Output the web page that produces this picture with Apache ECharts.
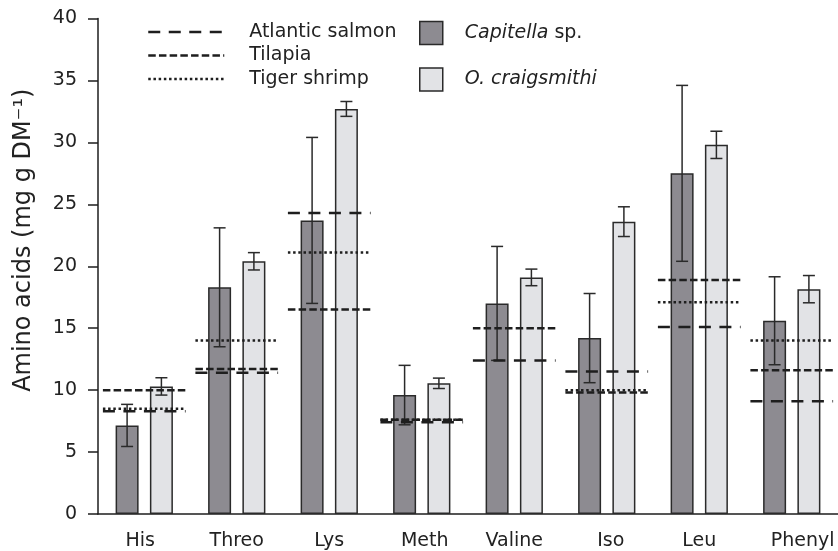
<!DOCTYPE html>
<html><head><meta charset="utf-8">
<script src="https://cdn.jsdelivr.net/npm/echarts@6/dist/echarts.min.js"></script>
<style>html,body{margin:0;padding:0;background:#fff;overflow:hidden}#c{width:838px;height:551px}</style>
</head><body><div id="c"></div>
<script>
// ---- data ----
const categories = ['His', 'Threo', 'Lys', 'Meth', 'Valine', 'Iso', 'Leu', 'Phenyl'];
const capitellaMean = [7.15, 18.3, 23.7, 9.6, 17.0, 14.2, 27.5, 15.6];
const capitellaSD = [1.7, 4.8, 6.7, 2.4, 4.6, 3.6, 7.1, 3.55];
const craigsmithiMean = [10.3, 20.4, 32.7, 10.55, 19.1, 23.6, 29.8, 18.15];
const craigsmithiSD = [0.7, 0.7, 0.6, 0.42, 0.67, 1.2, 1.1, 1.1];
const salmon = [8.3, 11.4, 24.3, 7.4, 12.4, 11.5, 15.1, 9.1];
const tilapia = [10.0, 11.7, 16.5, 7.6, 15.0, 9.8, 18.9, 11.6];
const shrimp = [8.5, 14.0, 21.1, 7.6, null, 10.0, 17.1, 14.0];
const yMin = 0, yMax = 40, yStep = 5;

// ---- style ----
const FONT = 'DejaVu Sans';
const INK = '#1e1e1e';
const BAR_W = 23, BAR_GAP = 11.3;
const OFF = (BAR_W + BAR_GAP) / 2;
const DASH = { salmon: [12, 8.5], tilapia: [7.5, 3.2], shrimp: [2.5, 2.7] };
// small horizontal nudges of individual category labels (px), as in the original figure
const LABEL_NUDGE = { His: -4, Meth: 3, Iso: 4, Phenyl: 11 };

function refSeries(name, values, dash) {
  const data = [];
  values.forEach((v, i) => { if (v != null) data.push([i, v]); });
  return {
    type: 'custom', name, data, encode: { x: 0, y: 1 }, z: 5, silent: true,
    renderItem(params, api) {
      const p = api.coord([api.value(0), api.value(1)]);
      const half = api.size([1, 0])[0] * 0.447;
      return { type: 'line', shape: { x1: p[0] - half, y1: p[1], x2: p[0] + half, y2: p[1] },
        style: { stroke: INK, lineWidth: 2.5, lineDash: dash } };
    }
  };
}
function legendLine(name, dash) {
  return { type: 'line', name, data: [], symbol: 'none', showSymbol: false,
    itemStyle: { color: INK, opacity: 0 },
    lineStyle: { color: INK, width: 2.5, type: dash, opacity: 1 } };
}
function errSeries(name, means, sds, offset) {
  return {
    type: 'custom', name, data: means.map((m, i) => [i, m - sds[i], m + sds[i]]),
    encode: { x: 0, y: [1, 2] }, z: 4, silent: true,
    renderItem(params, api) {
      const lo = api.coord([api.value(0), api.value(1)]);
      const hi = api.coord([api.value(0), api.value(2)]);
      const x = lo[0] + offset, c = 6;
      const st = { stroke: '#2a2a2a', lineWidth: 1.5 };
      return { type: 'group', children: [
        { type: 'line', shape: { x1: x, y1: lo[1], x2: x, y2: hi[1] }, style: st },
        { type: 'line', shape: { x1: x - c, y1: hi[1], x2: x + c, y2: hi[1] }, style: st },
        { type: 'line', shape: { x1: x - c, y1: lo[1], x2: x + c, y2: lo[1] }, style: st }
      ] };
    }
  };
}

const xData = categories.map(c => {
  const n = LABEL_NUDGE[c] || 0;
  if (!n) return c;
  return { value: c, textStyle: { padding: n > 0 ? [0, 0, 0, 2 * n] : [0, -2 * n, 0, 0] } };
});

const chart = echarts.init(document.getElementById('c'));
chart.setOption({
  animation: false,
  textStyle: { fontFamily: FONT },
  grid: { left: 98, top: 18.5, bottom: 34.5, right: -7 },
  legend: [
    { data: ['Atlantic salmon', 'Tilapia', 'Tiger shrimp'], orient: 'vertical', left: 147, top: 22.5,
      padding: 0, itemWidth: 76, itemHeight: 14, itemGap: 4.5, selectedMode: false,
      itemStyle: { opacity: 0 },
      lineStyle: { width: 2.5, opacity: 1 },
      textStyle: { fontFamily: FONT, fontSize: 19, color: '#222', padding: [0, 0, 0, 20] } },
    { data: ['Capitella sp.', 'O. craigsmithi'], orient: 'vertical', left: 419, top: 20.8,
      padding: 0, itemWidth: 23, itemHeight: 23, itemGap: 22, icon: 'rect', selectedMode: false,
      itemStyle: { borderColor: '#2a2a2a', borderWidth: 1.5 },
      formatter: n => n === 'Capitella sp.' ? '{i|Capitella} sp.' : '{i|O. craigsmithi}',
      textStyle: { fontFamily: FONT, fontSize: 19, color: '#222', padding: [0, 0, 0, 17],
        rich: { i: { fontStyle: 'italic', fontFamily: FONT, fontSize: 19, color: '#222' } } } }
  ],
  xAxis: {
    type: 'category', data: xData,
    axisLine: { lineStyle: { color: INK, width: 1.5 } },
    axisTick: { alignWithLabel: true, length: 10, lineStyle: { color: INK, width: 1.5 } },
    axisLabel: { interval: 0, margin: 18, fontFamily: FONT, fontSize: 19, color: '#222' }
  },
  yAxis: {
    type: 'value', min: yMin, max: yMax, interval: yStep,
    name: 'Amino acids (mg g DM⁻¹)', nameLocation: 'middle', nameGap: 62,
    nameTextStyle: { fontFamily: FONT, fontSize: 24, color: '#222', padding: [0, 0, 0, 52] },
    axisLine: { show: true, lineStyle: { color: INK, width: 1.5 } },
    axisTick: { show: true, length: 10, lineStyle: { color: INK, width: 1.5 } },
    axisLabel: { margin: 21, fontFamily: FONT, fontSize: 19, color: '#222' },
    splitLine: { show: false }
  },
  series: [
    legendLine('Atlantic salmon', DASH.salmon),
    legendLine('Tilapia', DASH.tilapia),
    legendLine('Tiger shrimp', DASH.shrimp),
    { type: 'bar', name: 'Capitella sp.', data: capitellaMean, barWidth: BAR_W, barGap: (BAR_GAP / BAR_W * 100) + '%',
      itemStyle: { color: '#8d8b91', borderColor: '#2a2a2a', borderWidth: 1.5 }, silent: true },
    { type: 'bar', name: 'O. craigsmithi', data: craigsmithiMean, barWidth: BAR_W,
      itemStyle: { color: '#e2e3e6', borderColor: '#2a2a2a', borderWidth: 1.5 }, silent: true },
    errSeries('Capitella sp. SD', capitellaMean, capitellaSD, -OFF),
    errSeries('O. craigsmithi SD', craigsmithiMean, craigsmithiSD, OFF),
    refSeries('Atlantic salmon', salmon, DASH.salmon),
    refSeries('Tilapia', tilapia, DASH.tilapia),
    refSeries('Tiger shrimp', shrimp, DASH.shrimp)
  ]
});
</script></body></html>
